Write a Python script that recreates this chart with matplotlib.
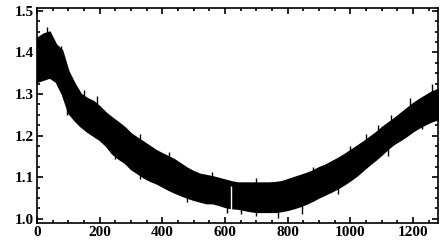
import numpy as np
import matplotlib
matplotlib.use("Agg")
import matplotlib.pyplot as plt
from matplotlib.ticker import MultipleLocator

# Envelope of the noisy signal (step 20 along x)
x_vals = list(range(0, 1281, 20))
upper = [1.435, 1.445, 1.45, 1.42, 1.405, 1.355, 1.325, 1.30, 1.29, 1.283,
         1.27, 1.255, 1.243, 1.232, 1.22, 1.205, 1.195, 1.185, 1.175, 1.165,
         1.157, 1.15, 1.142, 1.132, 1.122, 1.114, 1.108, 1.105, 1.102, 1.098,
         1.094, 1.09, 1.087, 1.087, 1.087, 1.087, 1.087, 1.087, 1.088, 1.09,
         1.095, 1.10, 1.105, 1.11, 1.116, 1.124, 1.13, 1.138, 1.146, 1.155,
         1.165, 1.175, 1.185, 1.196, 1.207, 1.22, 1.231, 1.242, 1.254, 1.266,
         1.278, 1.288, 1.297, 1.306, 1.312]
lower = [1.33, 1.335, 1.34, 1.33, 1.30, 1.255, 1.237, 1.222, 1.21, 1.20,
         1.19, 1.176, 1.157, 1.145, 1.135, 1.12, 1.11, 1.10, 1.092, 1.086,
         1.078, 1.07, 1.063, 1.057, 1.051, 1.046, 1.042, 1.038, 1.038, 1.034,
         1.029, 1.026, 1.025, 1.022, 1.019, 1.017, 1.017, 1.017, 1.017, 1.019,
         1.022, 1.026, 1.031, 1.037, 1.044, 1.052, 1.059, 1.066, 1.074, 1.083,
         1.093, 1.104, 1.117, 1.13, 1.142, 1.155, 1.169, 1.181, 1.19, 1.20,
         1.211, 1.22, 1.228, 1.235, 1.24]
# Individual spikes sticking out of the band (x, tip value)
spike_up_x = [32, 78, 150, 190, 330, 420, 560, 700, 880, 1000, 1050, 1090,
              1130, 1190, 1262]
spike_up_y = [1.462, 1.415, 1.31, 1.295, 1.205, 1.16, 1.112, 1.098, 1.125,
              1.175, 1.205, 1.225, 1.25, 1.29, 1.325]
spike_dn_x = [95, 250, 330, 480, 606, 650, 700, 770, 845, 960, 1120, 1230]
spike_dn_y = [1.25, 1.145, 1.095, 1.04, 1.015, 1.012, 1.006, 1.003, 1.012,
              1.06, 1.15, 1.215]
gap_x = 620
x_ticks = [0, 200, 400, 600, 800, 1000, 1200]
y_ticks = [1.0, 1.1, 1.2, 1.3, 1.4, 1.5]

plt.rcParams['font.family'] = ['Liberation Serif', 'DejaVu Serif']
plt.rcParams['font.weight'] = 'bold'

fig = plt.figure(figsize=(4.44, 2.46), dpi=100)
ax = fig.add_axes([0.0833, 0.0935, 0.9032, 0.874])

x = np.array(x_vals)
ax.fill_between(x, lower, upper, color='black', linewidth=1.2,
                edgecolor='black')
up_base = np.interp(spike_up_x, x_vals, upper)
dn_base = np.interp(spike_dn_x, x_vals, lower)
ax.vlines(spike_up_x, up_base, spike_up_y, color='black', linewidth=1.0)
ax.vlines(spike_dn_x, spike_dn_y, dn_base, color='black', linewidth=1.0)
gi = x_vals.index(gap_x)
ax.vlines(gap_x, lower[gi] - 0.01, upper[gi] - 0.01, color='white', linewidth=1.0)

ax.set_xlim(0, 1280)
ax.set_ylim(0.99, 1.507)
ax.set_xticks(x_ticks)
ax.set_yticks(y_ticks)
ax.set_xticklabels([str(t) for t in x_ticks])
ax.set_yticklabels([f"{t:.1f}" for t in y_ticks])
ax.xaxis.set_minor_locator(MultipleLocator(50))
ax.yaxis.set_minor_locator(MultipleLocator(0.025))
ax.tick_params(which='both', direction='in', top=True, right=True, width=1.2,
               labelsize=11, pad=2)
ax.tick_params(which='major', length=4)
ax.tick_params(which='minor', length=2.5)
for s in ax.spines.values():
    s.set_linewidth(1.2)
for lab in ax.get_xticklabels() + ax.get_yticklabels():
    lab.set_fontweight('bold')

fig.savefig('out.png', dpi=100)
